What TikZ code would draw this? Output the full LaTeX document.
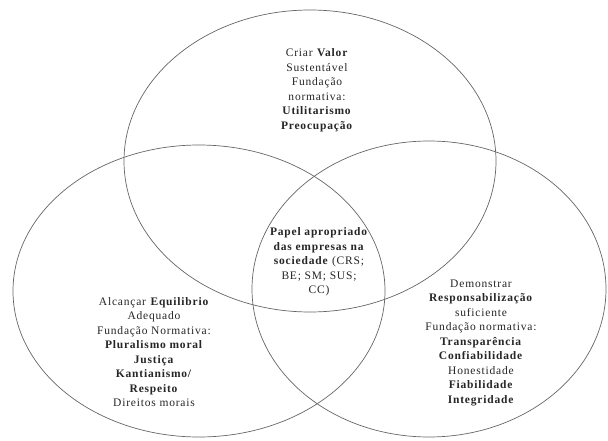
\documentclass[tikz,border=0pt]{standalone}
\usepackage{fontspec}
\setmainfont{Liberation Serif}[LetterSpace=7]
\begin{document}
\begin{tikzpicture}[x=1pt,y=-1pt,
  circ/.style={draw=black!60, line width=0.7pt},
  lbl/.style={align=center, text=black!85, font=\fontsize{11.5}{14.5}\selectfont, inner sep=0pt}]
\useasboundingbox (0,0) rectangle (608,441);
\fill[white] (0,0) rectangle (608,441);
\draw[circ] (310,161) ellipse [x radius=186, y radius=151];
\draw[circ] (199,291) ellipse [x radius=186, y radius=146];
\draw[circ] (429,289) ellipse [x radius=177, y radius=148];
\node[lbl] (top) at (317,90) {Criar \textbf{Valor}\\Sustentável\\Fundação\\normativa:\\\textbf{Utilitarismo}\\\textbf{Preocupação}};
\node[lbl] (mid) at (319,262) {\textbf{Papel apropriado}\\\textbf{das empresas na}\\\textbf{sociedade} (CRS;\\BE; SM; SUS;\\CC)};
\node[lbl] (left) at (154,352) {Alcançar \textbf{Equilibrio}\\Adequado\\Fundação Normativa:\\\textbf{Pluralismo moral}\\\textbf{Justiça}\\\textbf{Kantianismo/}\\\textbf{Respeito}\\Direitos morais};
\node[lbl] (right) at (481,343) {Demonstrar\\\textbf{Responsabilização}\\suficiente\\Fundação normativa:\\\textbf{Transparência}\\\textbf{Confiabilidade}\\Honestidade\\\textbf{Fiabilidade}\\\textbf{Integridade}};
\end{tikzpicture}
\end{document}
